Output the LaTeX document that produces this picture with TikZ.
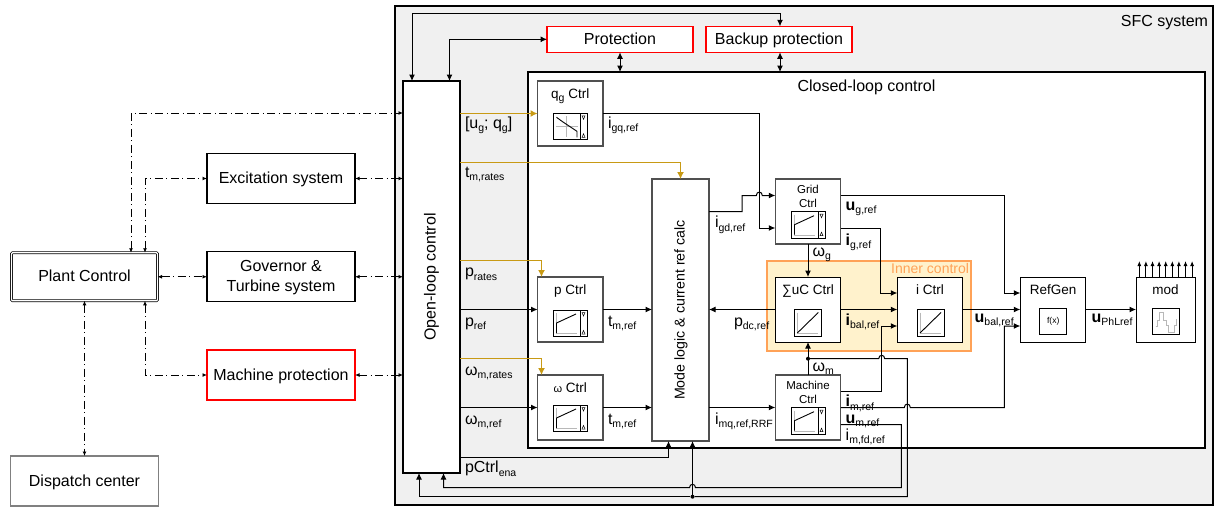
\documentclass[tikz,border=0pt]{standalone}
\usepackage{fontspec}
\setmainfont{Liberation Sans}
\usetikzlibrary{arrows.meta,calc}

\definecolor{sfcgray}{HTML}{F0F0F0}
\definecolor{boxgray}{HTML}{505050}
\definecolor{dispgray}{HTML}{808080}
\definecolor{axisgray}{HTML}{B8B8B8}
\definecolor{goldline}{HTML}{C89A14}
\definecolor{innerfill}{HTML}{FFF2CC}
\definecolor{innerline}{HTML}{FFA257}
\definecolor{protred}{HTML}{FF0000}

\newcommand{\subt}[1]{\raisebox{-3.5pt}{\fontsize{10.5}{11}\selectfont #1}}

\tikzset{
  flatbox/.style={draw,outer sep=0pt,inner sep=0pt,align=center,font=\fontsize{16}{19.5}\selectfont},
  sysbox/.style={flatbox,draw=black,line width=1.4pt,fill=white,minimum width=148pt,minimum height=50pt,text height=30pt,text depth=20pt},
  protbox/.style={flatbox,draw=protred,line width=1.3pt,fill=white,minimum height=26pt,minimum width=146pt,text height=18pt,text depth=8pt},
  longbox/.style={flatbox,fill=white,rotate=90,minimum height=57pt,text height=32.5pt,text depth=24.5pt},
  ctrlbox/.style={flatbox,draw=boxgray,line width=1.1pt,fill=white,minimum width=65.5pt,minimum height=65pt,text height=17pt,text depth=48pt,font=\fontsize{13.5}{16}\selectfont},
  smallctrl/.style={ctrlbox,font=\fontsize{11.5}{13.5}\selectfont,text height=28.2pt,text depth=36.8pt},
  lbl/.style={anchor=base west,inner sep=0pt,outer sep=0pt,font=\fontsize{16}{18}\selectfont},
  sig/.style={line width=1pt,-{Latex[length=6.5pt,width=6pt]}},
  sigboth/.style={line width=1pt,{Latex[length=6.5pt,width=6pt]}-{Latex[length=6.5pt,width=6pt]}},
  sigplain/.style={line width=1pt},
  goldsig/.style={line width=1.3pt,draw=goldline,-{Latex[length=7pt,width=7pt,fill=goldline]}},
  ddboth/.style={line width=0.9pt,dash pattern=on 8pt off 3.5pt on 1pt off 3.5pt,{Latex[length=4.5pt,width=4pt]}-{Latex[length=4.5pt,width=4pt]}},
  dotnode/.style={circle,fill=black,inner sep=0pt,minimum size=4pt},
  iconbox/.style={draw=black,line width=0.9pt,fill=white},
  iconaxis/.style={draw=axisgray,line width=0.8pt}
}

% one limiter icon: box, axes and the strip at the right
\newcommand{\rampicon}[2]{
\begin{scope}[shift={(#1,#2)}]
\draw[iconbox] (0,0) rectangle (27,26.5);
\draw[iconaxis] (3,3)--(3,23.5)--(24,23.5);
\draw[line width=0.9pt] (3.5,23)--(3.5,13)--(23,4);
\draw[iconbox] (27,0) rectangle (34,26.5);
\draw[line width=0.5pt] (29,2.5)--(32,2.5)--(30.5,6)--cycle;
\draw[line width=0.5pt] (29,24)--(32,24)--(30.5,20.5)--cycle;
\end{scope}
}
\newcommand{\droopicon}[2]{
\begin{scope}[shift={(#1,#2)}]
\draw[iconbox] (0,0) rectangle (27,26.5);
\draw[iconaxis] (13.5,3)--(13.5,24);
\draw[iconaxis] (3,13.5)--(25,13.5);
\draw[line width=0.9pt] (3.5,4)--(9,8)--(24,18)--(24,24);
\draw[iconbox] (27,0) rectangle (34,26.5);
\draw[line width=0.5pt] (29,2.5)--(32,2.5)--(30.5,6)--cycle;
\draw[line width=0.5pt] (29,24)--(32,24)--(30.5,20.5)--cycle;
\end{scope}
}
\newcommand{\lineicon}[2]{
\begin{scope}[shift={(#1,#2)}]
\draw[iconbox] (0,0) rectangle (27,26.5);
\draw[iconaxis] (3,3)--(3,23.5)--(24,23.5);
\draw[line width=0.9pt] (3,23.5)--(24,3);
\end{scope}
}

\begin{document}
\begin{tikzpicture}[x=1pt,y=-1pt]

\useasboundingbox (0,0) rectangle (1214,506);

% outer boxes
\node[flatbox,draw=black,line width=1.3pt,fill=sfcgray,minimum width=818pt,minimum height=499pt] (sfc) at (804,255.5) {};
\node[flatbox,draw=black,line width=1.6pt,fill=white,minimum width=677pt,minimum height=376pt] (closed) at (866.5,260) {};
\node[flatbox,draw=innerline,line width=1.3pt,fill=innerfill,minimum width=204pt,minimum height=90pt] (inner) at (869,306) {};
\node[lbl,anchor=base east] (sfctxt) at (1208,26) {SFC system};
\node[lbl,anchor=base] (closedtxt) at (866.5,91.5) {Closed-loop control};
\node[lbl,anchor=base east,text=innerline,font=\fontsize{14}{16}\selectfont] (innertxt) at (969,273) {Inner control};

% left side
\node[flatbox,draw=black,line width=0.7pt,double,double distance=1.3pt,rounded corners=1pt,fill=white,minimum width=146pt,minimum height=48pt,text height=29pt,text depth=19pt] (plant) at (84.5,276.75) {Plant Control};
\node[sysbox] (excit) at (281,178.5) {Excitation system};
\node[sysbox,line width=1.1pt,text height=39.7pt,text depth=10.3pt] (govern) at (281,276.75) {Governor \&\\Turbine system};
\node[sysbox,draw=protred,line width=1.2pt] (machprot) at (281,375) {Machine protection};
\node[sysbox,draw=dispgray,line width=1.1pt] (dispatch) at (84.5,481) {Dispatch center};

% top and open-loop
\node[protbox] (prot) at (620,39.3) {Protection};
\node[protbox] (backup) at (779,39.3) {Backup protection};
\node[longbox,draw=black,line width=1.5pt,minimum width=392pt] (open) at (431.5,277) {Open-loop control};
\node[longbox,draw=boxgray,line width=1.2pt,minimum width=262pt,font=\fontsize{14.2}{16}\selectfont] (mode) at (680.5,310) {Mode logic \& current ref calc};

% control blocks
\node[ctrlbox] (qgctrl) at (570.25,113.5) {q\subt{g} Ctrl};
\node[ctrlbox] (pctrl) at (570.25,309.5) {p Ctrl};
\node[ctrlbox] (omctrl) at (570.25,407.5) {{\fontsize{11}{11}\selectfont ω} Ctrl};
\node[smallctrl] (grid) at (808,211.5) {Grid\\Ctrl};
\node[smallctrl] (machctrl) at (808,407.5) {Machine\\Ctrl};
\node[ctrlbox,draw=black,line width=0.9pt] (sumuc) at (808,309.5) {∑uC Ctrl};
\node[ctrlbox,draw=black,line width=0.9pt] (ictrl) at (930,309.5) {i Ctrl};
\node[ctrlbox,draw=black,line width=0.9pt] (refgen) at (1053,309.5) {RefGen};
\node[ctrlbox,draw=black,line width=0.9pt,minimum width=59pt] (modbox) at (1165.5,309.5) {mod};

\droopicon{553}{113.3}
\rampicon{553}{310}
\rampicon{553}{405}
\rampicon{791}{211.7}
\rampicon{791}{407.7}
\lineicon{794.3}{309.5}
\lineicon{917}{309.5}

% f(x) and the stepped wave
\node[flatbox,draw=black,line width=0.9pt,fill=white,minimum width=27pt,minimum height=26.5pt,font=\fontsize{8.5}{10}\selectfont] (fxicon) at (1053.2,321.3) {f(x)};
\begin{scope}[shift={(1152.7,308)}]
\draw[iconbox] (0,0) rectangle (27,26.5);
\draw[iconaxis] (3,18)--(5,18)--(5,12.7)--(6.7,12.7)--(6.7,4.3)--(10.7,4.3)--(10.7,12.7)--(14,12.7)--(14,17.7)--(15.7,17.7)--(15.7,24)--(21.7,24)--(21.7,17.7)--(24,17.7)--(24,11);
\end{scope}

% labels
\node[lbl] (lblugqg) at (465,128) {[u\subt{g}; q\subt{g}]};
\node[lbl] (lbltrates) at (465,177) {t\subt{m,rates}};
\node[lbl] (lblprates) at (465,276.7) {p\subt{rates}};
\node[lbl] (lblpref) at (465,326) {p\subt{ref}};
\node[lbl] (lblomrates) at (465,375) {ω\subt{m,rates}};
\node[lbl] (lblomref) at (465,424) {ω\subt{m,ref}};
\node[lbl] (lblpctrl) at (465,472.7) {pCtrl\subt{ena}};
\node[lbl] (lbligq) at (608,128) {i\subt{gq,ref}};
\node[lbl] (lbltp) at (608,326) {t\subt{m,ref}};
\node[lbl] (lbltom) at (608,424) {t\subt{m,ref}};
\node[lbl] (lbligd) at (715,227.5) {i\subt{gd,ref}};
\node[lbl] (lblimq) at (715,424) {i\subt{mq,ref,RRF}};
\node[lbl] (lblpdc) at (734,326) {p\subt{dc,ref}};
\node[lbl] (lblug) at (845.7,210) {\textbf{u}\subt{g,ref}};
\node[lbl] (lblig) at (845.7,245) {\textbf{i}\subt{g,ref}};
\node[lbl] (lblomg) at (812.7,256) {ω\subt{g}};
\node[lbl] (lblibal) at (845.7,325) {\textbf{i}\subt{bal,ref}};
\node[lbl] (lblubal) at (974.7,322) {\textbf{u}\subt{bal,ref}};
\node[lbl] (lbluphl) at (1091.7,322) {\textbf{u}\subt{PhLref}};
\node[lbl] (lblomm) at (812.7,371) {ω\subt{m}};
\node[lbl] (lblim) at (845.7,406.7) {\textbf{i}\subt{m,ref}};
\node[lbl] (lblum) at (845.7,423.3) {\textbf{u}\subt{m,ref}};
\node[lbl] (lblimfd) at (845.7,440) {i\subt{m,fd,ref}};

% dash-dot links
\draw[ddboth] ($(plant.north)+(46.5,0)$) |- ($(open.north)+(0,-164)$);
\draw[ddboth] ($(plant.north)+(60.5,0)$) |- (excit.west);
\draw[ddboth] (excit.east) -- (excit.east -| open.north);
\draw[ddboth] (plant.east) -- (govern.west);
\draw[ddboth] (govern.east) -- (govern.east -| open.north);
\draw[ddboth] ($(plant.south)+(60.5,0)$) |- (machprot.west);
\draw[ddboth] (machprot.east) -- (machprot.east -| open.north);
\draw[ddboth] (plant.south) -- (dispatch.north);

% protection links
\draw[sigboth] ($(open.east)+(-19.5,0)$) |- ($(backup.north)+(1,-13)$) -- ($(backup.north)+(1,0)$);
\draw[sigboth] ($(open.east)+(18,0)$) |- (prot.west);
\draw[sigboth] (prot.south) -- (prot.south |- closed.north);
\draw[sigboth] ($(backup.south)+(1,0)$) -- ($(backup.south |- closed.north)+(1,0)$);

% rates
\draw[goldsig] (open.south |- qgctrl.west) -- (qgctrl.west);
\draw[goldsig] ($(open.south)+(0,-114.5)$) -| (mode.east);
\draw[goldsig] ($(open.south)+(0,-16.3)$) -| ($(pctrl.north west)+(4,0)$);
\draw[goldsig] ($(open.south)+(0,81.7)$) -| ($(omctrl.north west)+(4,0)$);

% signals
\draw[sig] (open.south |- pctrl.west) -- (pctrl.west);
\draw[sig] (open.south |- omctrl.west) -- (omctrl.west);
\draw[sig] (pctrl.east) -- (pctrl.east -| mode.north);
\draw[sig] (omctrl.east) -- (omctrl.east -| mode.north);
\draw[sig] (omctrl.east -| mode.south) -- (machctrl.west);
\draw[sig] (sumuc.west) -- (sumuc.west -| mode.south);
\draw[sig] ($(open.south)+(0,180)$) -| ($(mode.west)+(-12,0)$);
\draw[sig] (qgctrl.east) -| ($(grid.west)+(-15.5,16.5)$) -- ($(grid.west)+(0,16.5)$);
\draw[sig] (grid.west -| mode.south) -- (742,211.5) -- (742,195.5) -- (756.3,195.5) .. controls (756.3,191) and (762.3,191) .. (762.3,195.5) -- ($(grid.west)+(0,-16)$);
\draw[sig] (grid.south) -- (sumuc.north);
\draw[sig] (sumuc.east) -- (ictrl.west);
\draw[sig] (ictrl.east) -- (refgen.west);
\draw[sig] (refgen.east) -- (modbox.west);
\draw[sig] ($(grid.east)+(0,16.5)$) -| ($(ictrl.west)+(-16.5,-16.5)$) -- ($(ictrl.west)+(0,-16.5)$);
\draw[sig] ($(grid.east)+(0,-16)$) -| ($(refgen.west)+(-16,-16.5)$) -- ($(refgen.west)+(0,-16.5)$);
\draw[sig] ($(machctrl.east)+(0,-16)$) -| ($(ictrl.west)+(-15.5,16.5)$) -- ($(ictrl.west)+(0,16.5)$);
\draw[sig] (machctrl.east) -- (904.3,407.5) .. controls (904.3,403) and (910.3,403) .. (910.3,407.5) -| ($(refgen.west)+(-16,16.5)$) -- ($(refgen.west)+(0,16.5)$);
\draw[sig] (machctrl.north) -- (sumuc.south);
\node[dotnode] (omdot) at (808,358.7) {};
\node[dotnode] (botdot) at (692.5,496.7) {};
\draw[sigplain] (omdot) -- (878.7,358.7) .. controls (878.7,354.2) and (884.7,354.2) .. (884.7,358.7) -- (907.3,358.7) -- (907.3,496.7) -- (botdot);
\draw[sig] (botdot) -| ($(open.west)+(-12.5,0)$);
\draw[sig] (botdot) -- ($(mode.west)+(12,0)$);
\draw[sig] ($(machctrl.east)+(0,17)$) -- (901.3,424.5) -- (901.3,487.7) -- (695.5,487.7) .. controls (695.5,483.2) and (689.5,483.2) .. (689.5,487.7) -| ($(open.west)+(12,0)$);

% outputs of the modulator
\foreach \n in {0,...,8}
{
\coordinate (modout\n) at ($(modbox.north west)+(3.3+6.6*\n,0)$);
\draw[line width=0.9pt,-{Latex[length=5pt,width=4pt]}] (modout\n) -- ++(0,-16);
}

\end{tikzpicture}
\end{document}
